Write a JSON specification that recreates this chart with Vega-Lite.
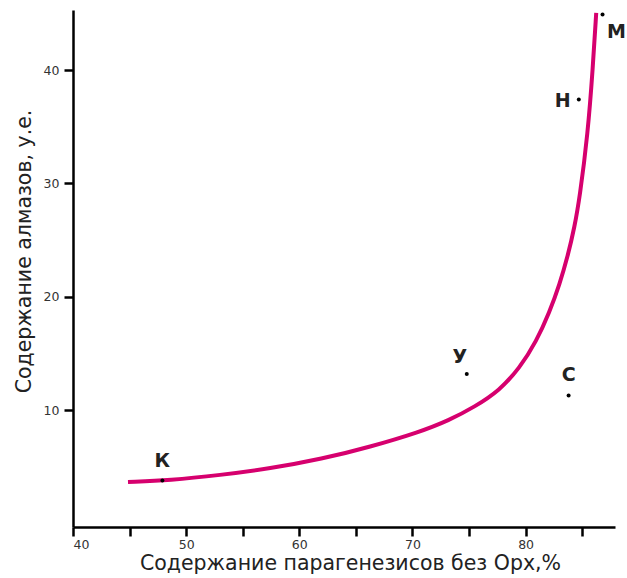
{
  "$schema": "https://vega.github.io/schema/vega-lite/v6.json",
  "width": 542,
  "height": 517,
  "autosize": "none",
  "padding": {"left": 73, "top": 10, "right": 12, "bottom": 51},
  "background": "white",
  "config": {
    "view": {"stroke": null},
    "font": "DejaVu Sans",
    "axis": {"grid": false, "domainColor": "#000", "domainWidth": 2.5, "tickColor": "#000", "tickWidth": 2.5, "tickSize": 9,
      "labelFont": "DejaVu Sans", "labelFontSize": 12.5, "labelColor": "#333", "titleFont": "DejaVu Sans", "titleFontSize": 20.5, "titleColor": "#222", "titleFontWeight": "normal"}
  },
  "datasets": {
    "curve": [
      {"x": 44.86, "y": 3.66},
      {"x": 48.57, "y": 3.82},
      {"x": 53.0, "y": 4.28},
      {"x": 57.4, "y": 4.85},
      {"x": 62.0, "y": 5.7},
      {"x": 66.23, "y": 6.76},
      {"x": 70.64, "y": 8.08},
      {"x": 73.2, "y": 9.1},
      {"x": 75.5, "y": 10.3},
      {"x": 77.7, "y": 11.75},
      {"x": 79.47, "y": 13.72},
      {"x": 80.94, "y": 16.05},
      {"x": 82.11, "y": 18.65},
      {"x": 83.0, "y": 21.1},
      {"x": 83.73, "y": 23.6},
      {"x": 84.33, "y": 26.2},
      {"x": 84.77, "y": 28.7},
      {"x": 85.5, "y": 34.4},
      {"x": 85.94, "y": 40.2},
      {"x": 86.24, "y": 45.05}
    ],
    "pts": [
      {"name": "К", "x": 47.9, "y": 3.8},
      {"name": "У", "x": 74.8, "y": 13.2},
      {"name": "С", "x": 83.8, "y": 11.3},
      {"name": "Н", "x": 84.7, "y": 37.4},
      {"name": "М", "x": 86.8, "y": 44.9}
    ]
  },
  "layer": [
    {
      "data": {"name": "curve"},
      "mark": {"type": "line", "color": "#d6006e", "strokeWidth": 4, "interpolate": "basis", "clip": false},
      "encoding": {
        "x": {"field": "x", "type": "quantitative", "scale": {"domain": [40, 87.9], "nice": false, "zero": false},
          "axis": {"values": [40, 45, 50, 55, 60, 65, 70, 75, 80, 85], "labelExpr": "datum.value % 10 == 0 ? datum.label : ''", "labelPadding": 2, "titlePadding": 3, "titleX": 277,
            "title": "Содержание парагенезисов без Орх,%"}},
        "y": {"field": "y", "type": "quantitative", "scale": {"domain": [-0.3, 45.3], "nice": false, "zero": false},
          "axis": {"values": [10, 20, 30, 40], "labelPadding": 5, "titlePadding": 9, "titleY": 241, "title": "Содержание алмазов, у.е."}}
      }
    },
    {
      "data": {"name": "pts"},
      "mark": {"type": "circle", "color": "#000", "size": 16, "opacity": 1},
      "encoding": {"x": {"field": "x", "type": "quantitative"}, "y": {"field": "y", "type": "quantitative"}}
    },
    {
      "data": {"name": "pts"},
      "transform": [{"filter": "datum.name == 'К' || datum.name == 'С'"}],
      "mark": {"type": "text", "fontSize": 19, "fontWeight": "bold", "color": "#222", "dy": -20},
      "encoding": {"x": {"field": "x", "type": "quantitative"}, "y": {"field": "y", "type": "quantitative"}, "text": {"field": "name"}}
    },
    {
      "data": {"name": "pts"},
      "transform": [{"filter": "datum.name == 'У'"}],
      "mark": {"type": "text", "fontSize": 19, "fontWeight": "bold", "color": "#222", "dx": -7, "dy": -17},
      "encoding": {"x": {"field": "x", "type": "quantitative"}, "y": {"field": "y", "type": "quantitative"}, "text": {"field": "name"}}
    },
    {
      "data": {"name": "pts"},
      "transform": [{"filter": "datum.name == 'Н'"}],
      "mark": {"type": "text", "fontSize": 19, "fontWeight": "bold", "color": "#222", "dx": -16, "dy": 1},
      "encoding": {"x": {"field": "x", "type": "quantitative"}, "y": {"field": "y", "type": "quantitative"}, "text": {"field": "name"}}
    },
    {
      "data": {"name": "pts"},
      "transform": [{"filter": "datum.name == 'М'"}],
      "mark": {"type": "text", "fontSize": 19, "fontWeight": "bold", "color": "#222", "dx": 14, "dy": 17},
      "encoding": {"x": {"field": "x", "type": "quantitative"}, "y": {"field": "y", "type": "quantitative"}, "text": {"field": "name"}}
    }
  ]
}
